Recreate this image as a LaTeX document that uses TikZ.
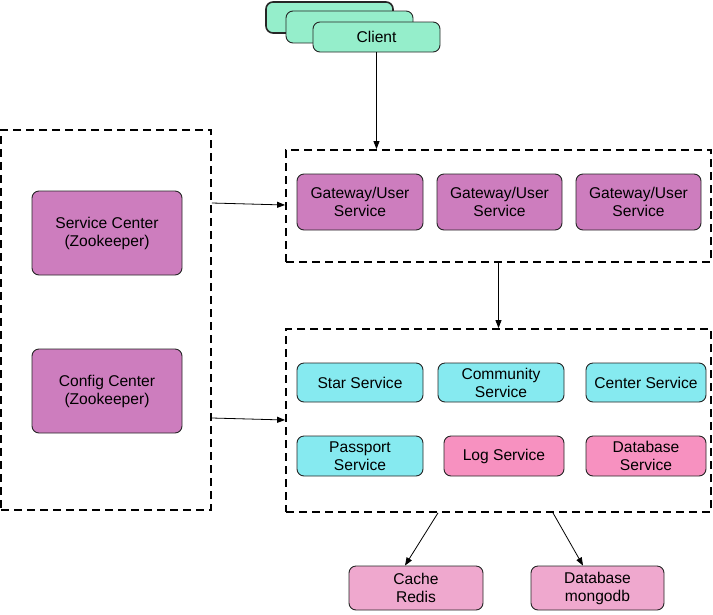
\documentclass[tikz,border=0pt]{standalone}
\usepackage{fontspec}
\setmainfont{Liberation Sans}
\usetikzlibrary{arrows.meta,calc}
\definecolor{mint}{HTML}{95EECB}
\definecolor{violet}{HTML}{CD7DBE}
\definecolor{aqua}{HTML}{86EAF0}
\definecolor{rose}{HTML}{F791C0}
\definecolor{blush}{HTML}{EFA8CE}
\begin{document}
\begin{tikzpicture}[x=1pt,y=-1pt,
  svcbox/.style={draw=black!85,line width=0.9pt,rounded corners=7pt,align=center,
    inner sep=0pt,font=\fontsize{15.6}{18}\selectfont},
  group/.style={draw=black,dashed,dash pattern=on 8pt off 5pt,line width=1.8pt,
    inner sep=0pt,rectangle},
  link/.style={draw=black,line width=0.8pt,-{Triangle[length=8pt,width=6pt]}}]
\useasboundingbox (0,0) rectangle (713,614);

% stacked client boxes
\node[svcbox,fill=mint,line width=1.6pt,minimum width=127pt,minimum height=31pt] (c3) at (329.5,17.5) {};
\node[svcbox,fill=mint,minimum width=127pt,minimum height=32pt] (c2) at (349.5,27) {};
\node[svcbox,fill=mint,minimum width=127pt,minimum height=30pt] (client) at (376.5,37) {Client};

% container groups
\node[group,minimum width=210pt,minimum height=380pt] (reg) at (106,320) {};
\node[group,minimum width=425pt,minimum height=112pt] (gw) at (498.5,206) {};
\node[group,minimum width=425pt,minimum height=183pt] (svc) at (498.5,420.5) {};

% registry / configuration
\node[svcbox,fill=violet,minimum width=150pt,minimum height=84pt] (sc) at (107,233) {Service Center\\(Zookeeper)};
\node[svcbox,fill=violet,minimum width=150pt,minimum height=84pt] (cc) at (107,391) {Config Center\\(Zookeeper)};

% gateways
\node[svcbox,fill=violet,minimum width=126pt,minimum height=56pt] (g1) at (360,202) {Gateway/User\\Service};
\node[svcbox,fill=violet,minimum width=125pt,minimum height=56pt] (g2) at (499.5,202) {Gateway/User\\Service};
\node[svcbox,fill=violet,minimum width=125pt,minimum height=56pt] (g3) at (638.5,202) {Gateway/User\\Service};

% business services
\node[svcbox,fill=aqua,minimum width=126pt,minimum height=39pt] (star) at (360,382.5) {Star Service};
\node[svcbox,fill=aqua,minimum width=126pt,minimum height=39pt] (comm) at (501,382.5) {Community\\Service};
\node[svcbox,fill=aqua,minimum width=120pt,minimum height=39pt] (center) at (646,382.5) {Center Service};
\node[svcbox,fill=aqua,minimum width=126pt,minimum height=40pt] (pass) at (360,456) {Passport\\Service};
\node[svcbox,fill=rose,minimum width=120pt,minimum height=40pt] (log) at (504,456) {Log Service};
\node[svcbox,fill=rose,minimum width=120pt,minimum height=40pt] (dbs) at (646,456) {Database\\Service};

% storage
\node[svcbox,fill=blush,minimum width=134pt,minimum height=44pt] (cache) at (416,588) {Cache\\Redis};
\node[svcbox,fill=blush,minimum width=133pt,minimum height=44pt] (mongo) at (597.5,588) {Database\\mongodb};

% connectors
\draw[link] (client.south) -- (client.south |- gw.north);
\draw[link] (gw.south) -- (svc.north);
\draw[link] (reg.east |- 0,203) -- (gw.west |- 0,205);
\draw[link] (reg.east |- 0,418) -- (svc.west |- 0,420);
\draw[link] (svc.south -| 438,0) -- (cache.north -| 405,0);
\draw[link] (svc.south -| 553,0) -- (mongo.north -| 583,0);
\end{tikzpicture}
\end{document}
